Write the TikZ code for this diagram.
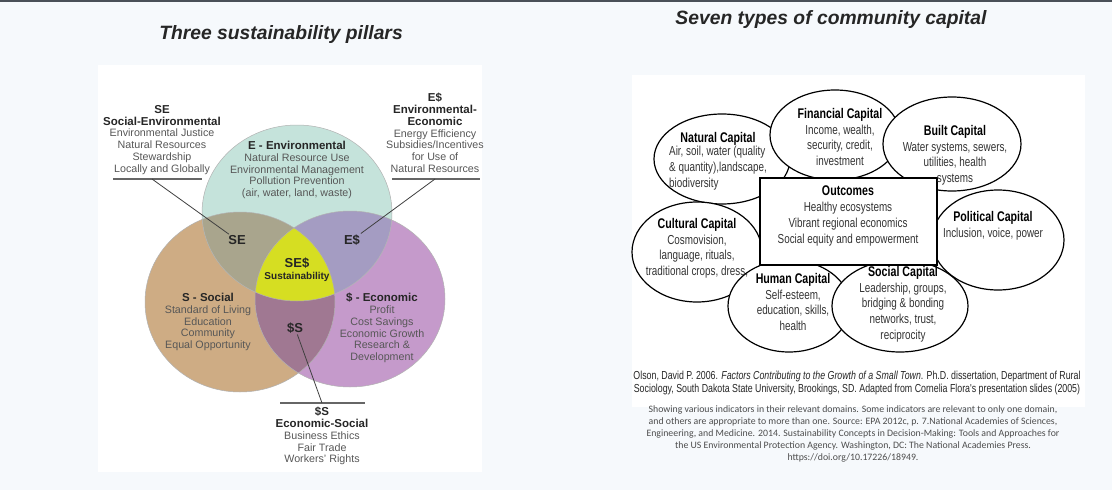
\documentclass[tikz,border=0pt]{standalone}
\usepackage{fontspec}
\setmainfont{Liberation Sans}
\newfontfamily\narrowfont[FakeStretch=0.76]{Liberation Sans}
\newfontfamily\notefont{Carlito}
\usetikzlibrary{shapes.geometric,positioning}

\definecolor{pageback}{HTML}{F6F9FC}
\definecolor{topband}{HTML}{4A5058}
\definecolor{envcol}{HTML}{C5E3DB}
\definecolor{soccol}{HTML}{CEAC84}
\definecolor{ecocol}{HTML}{C59ACB}
\definecolor{secol}{HTML}{A9A58D}
\definecolor{edcol}{HTML}{A49CC2}
\definecolor{dscol}{HTML}{A07892}
\definecolor{sescol}{HTML}{D6DE22}
\definecolor{headgray}{HTML}{262626}
\definecolor{bodygray}{HTML}{575757}
\definecolor{notegray}{HTML}{4D4D4D}

\newcommand{\vhead}[1]{{\fontsize{11.5}{11.8}\selectfont\bfseries\color{headgray}#1}}
\newcommand{\chead}[1]{{\bfseries\fontsize{14}{16}\selectfont\color{black}#1}}

\begin{document}
\begin{tikzpicture}[x=1pt,y=-1pt]
			\tikzstyle{pillartext}=[align=center,inner sep=0pt,anchor=north,text=bodygray,font=\fontsize{10.7}{11.8}\selectfont]
			\tikzstyle{overlap}=[inner sep=1pt,text=headgray,font=\fontsize{13}{14}\selectfont\bfseries]
			\tikzstyle{leader}=[draw=black!75,line width=0.8pt]
			\tikzstyle{rule}=[draw=black!60,line width=1.3pt]
			\tikzstyle{rim}=[draw=black!30,line width=0.5pt]
			\tikzstyle{capital}=[ellipse,draw=black,line width=1.2pt,fill=white,inner sep=0pt]
			\tikzstyle{captext}=[align=center,inner sep=0pt,anchor=north,text=black!80,font=\narrowfont\fontsize{13}{15.7}\selectfont]
			\tikzstyle{title}=[font=\fontsize{19.3}{22}\selectfont\bfseries\itshape,text=black!85]
			\useasboundingbox (0,0) rectangle (1112,490);
			\fill[pageback] (0,0) rectangle (1112,490);
			\fill[topband] (0,0) rectangle (1112,2);
			\fill[white] (98,65) rectangle (482,472);
			\fill[white] (632,75) rectangle (1085,407);
			\node[title] (lefttitle) at (281,35) {Three sustainability pillars};
			\node[title] (righttitle) at (831,20) {Seven types of community capital};
			\coordinate (cE) at (297,213);
			\coordinate (cS) at (240,302);
			\coordinate (cD) at (350,299);
			\fill[soccol] (cS) ellipse (95pt and 90pt);
			\fill[ecocol] (cD) ellipse (95pt and 88pt);
			\fill[envcol] (cE) ellipse (95pt and 88pt);
			\begin{scope}
				\clip (cE) ellipse (95pt and 88pt);
				\fill[secol] (cS) ellipse (95pt and 90pt);
				\fill[edcol] (cD) ellipse (95pt and 88pt);
			\end{scope}
			\begin{scope}
				\clip (cS) ellipse (95pt and 90pt);
				\fill[dscol] (cD) ellipse (95pt and 88pt);
			\end{scope}
			\begin{scope}
				\clip (cE) ellipse (95pt and 88pt);
				\clip (cS) ellipse (95pt and 90pt);
				\fill[sescol] (cD) ellipse (95pt and 88pt);
			\end{scope}
			\draw[rim] (cS) ellipse (95pt and 90pt);
			\draw[rim] (cD) ellipse (95pt and 88pt);
			\draw[rim] (cE) ellipse (95pt and 88pt);
			\node[pillartext] (Etext) at (297,141) {\vhead{E - Environmental}\\Natural Resource Use\\Environmental Management\\Pollution Prevention\\(air, water, land, waste)};
			\node[pillartext] (Stext) at (208,293) {\vhead{S - Social}\\Standard of Living\\Education\\Community\\Equal Opportunity};
			\node[pillartext] (Dtext) at (382,293) {\vhead{\$ - Economic}\\Profit\\Cost Savings\\Economic Growth\\Research \&\\Development};
			\node[pillartext] (SEblock) at (162,105) {\vhead{SE}\\\vhead{Social-Environmental}\\Environmental Justice\\Natural Resources\\Stewardship\\Locally and Globally};
			\node[pillartext] (EDblock) at (435,93) {\vhead{E\$}\\\vhead{Environmental-}\\\vhead{Economic}\\Energy Efficiency\\Subsidies/Incentives\\for Use of\\Natural Resources};
			\node[pillartext] (DSblock) at (322,407) {\vhead{\$S}\\\vhead{Economic-Social}\\Business Ethics\\Fair Trade\\Workers' Rights};
			\node[overlap] (SE) at (237,240) {SE};
			\node[overlap] (ED) at (352,240) {E\$};
			\node[overlap] (DS) at (295,328) {\$S};
			\node[overlap,align=center] (SES) at (297,270) {SE\$\\[-2pt]{\fontsize{10}{10}\selectfont Sustainability}};
			\coordinate (seL) at (113,179);
			\coordinate (seR) at (202,179);
			\coordinate (seFoot) at (152,179);
			\coordinate (edL) at (392,179);
			\coordinate (edR) at (480,179);
			\coordinate (edFoot) at (435,179);
			\coordinate (dsL) at (280,403);
			\coordinate (dsR) at (365,403);
			\coordinate (dsFoot) at (322,403);
			\draw[rule] (seL) -- (seR);
			\draw[rule] (edL) -- (edR);
			\draw[rule] (dsL) -- (dsR);
			\draw[leader] (seFoot) -- (SE);
			\draw[leader] (edFoot) -- (ED);
			\draw[leader] (DS) -- (dsFoot);
			\node[capital,minimum width=136pt,minimum height=90pt] (nat) at (722,159) {};
			\node[capital,minimum width=130pt,minimum height=90pt] (fin) at (835,135) {};
			\node[capital,minimum width=138pt,minimum height=94pt] (blt) at (952,144) {};
			\node[capital,minimum width=132pt,minimum height=100pt] (pol) at (998,240) {};
			\node[capital,minimum width=130pt,minimum height=100pt] (cul) at (697,252) {};
			\node[capital,minimum width=122pt,minimum height=92pt] (hum) at (789,306) {};
			\node[capital,minimum width=136pt,minimum height=92pt] (soc) at (900,306) {};
			\node[draw=black,line width=1.2pt,fill=white,minimum width=177pt,minimum height=87pt,inner sep=0pt] (out) at (848.5,221.5) {};
			\node[captext] (natT) at (718,132) {\chead{Natural Capital}};
			\node[captext,align=left,anchor=north west] (natB) at (669,146) {Air, soil, water (quality\\\& quantity),landscape,\\biodiversity};
			\node[captext] (finT) at (840,108) {\chead{Financial Capital}\\Income, wealth,\\security, credit,\\investment};
			\node[captext] (bltT) at (955,125) {\chead{Built Capital}\\Water systems, sewers,\\utilities, health\\systems};
			\node[captext] (outT) at (848,186) {\chead{Outcomes}\\Healthy ecosystems\\Vibrant regional economics\\Social equity and empowerment};
			\node[captext] (polT) at (993,211) {\chead{Political Capital}\\Inclusion, voice, power};
			\node[captext] (culT) at (697,218) {\chead{Cultural Capital}\\Cosmovision,\\language, rituals,\\traditional crops, dress,};
			\node[captext] (humT) at (793,273) {\chead{Human Capital}\\Self-esteem,\\education, skills,\\health};
			\node[captext] (socT) at (903,266) {\chead{Social Capital}\\Leadership, groups,\\bridging \& bonding\\networks, trust,\\reciprocity};
			\node[align=center,inner sep=0pt,anchor=north,text=black!85,font=\narrowfont\fontsize{11.6}{13}\selectfont] (cite) at (857,371) {Olson, David P. 2006. \textit{Factors Contributing to the Growth of a Small Town}. Ph.D. dissertation, Department of Rural\\Sociology, South Dakota State University, Brookings, SD. Adapted from Cornelia Flora's presentation slides (2005)};
			\node[align=center,inner sep=0pt,anchor=north,text=notegray,font=\notefont\fontsize{9.8}{12}\selectfont] (note) at (853,405) {Showing various indicators in their relevant domains. Some indicators are relevant to only one domain,\\and others are appropriate to more than one. Source: EPA 2012c, p. 7.National Academies of Sciences,\\Engineering, and Medicine. 2014. Sustainability Concepts in Decision-Making: Tools and Approaches for\\the US Environmental Protection Agency. Washington, DC: The National Academies Press.\\https://doi.org/10.17226/18949.};
\end{tikzpicture}
\end{document}
